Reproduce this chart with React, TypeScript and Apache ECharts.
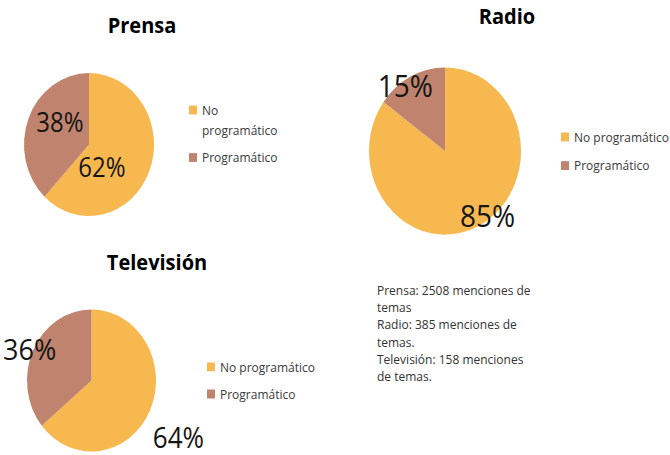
import React, { useEffect, useRef } from "react";
import * as echarts from "echarts";

const categories = ["No programático", "Programático"];
const prensaValues = [62, 38];
const radioValues = [85, 15];
const televisionValues = [64, 36];
const chartTitles = ["Prensa", "Radio", "Televisión"];
const noteLines = [
  "Prensa: 2508 menciones de",
  "temas",
  "Radio: 385 menciones de",
  "temas.",
  "Televisión: 158 menciones",
  "de temas.",
];

const COLORS = ["#F7B94F", "#BF836E"];
const STRETCH = 1.1;
const W = 670;
const H = 455 / STRETCH;
const FONT = "'Open Sans', 'DejaVu Sans', sans-serif";

function pieSeries(name: string, values: number[], center: number[], radius: number, fontSizes: number[], offsets: number[][]) {
  return {
    type: "pie",
    name,
    center,
    radius,
    startAngle: 90,
    clockwise: true,
    silent: true,
    emphasis: { disabled: true },
    labelLine: { show: false },
    itemStyle: { borderWidth: 0 },
    data: categories.map((c, i) => ({
      name: c,
      value: values[i],
      itemStyle: { color: COLORS[i] },
      label: {
        show: true,
        position: "inside",
        formatter: "{c}%",
        fontSize: fontSizes[i],
        lineHeight: fontSizes[i],
        fontFamily: FONT,
        color: "#151515",
        offset: offsets[i],
      },
    })),
  };
}

export default function App() {
  const ref = useRef<HTMLDivElement>(null);
  useEffect(() => {
    if (!ref.current) return;
    const chart = echarts.init(ref.current, undefined, { renderer: "svg", width: W, height: H });
    const legendText = { fontSize: 12, fontFamily: FONT, color: "#3a3a3a", lineHeight: 14 };
    const titleStyle = { fontSize: 20, fontWeight: "bold", fontFamily: FONT, color: "#000", lineHeight: 24 };
    chart.setOption({
      animation: false,
      backgroundColor: "#ffffff",
      title: [
        { text: chartTitles[0], left: 142, top: 10.7, textAlign: "center", padding: 0, textStyle: titleStyle },
        { text: chartTitles[1], left: 507, top: 2.5, textAlign: "center", padding: 0, textStyle: titleStyle },
        { text: chartTitles[2], left: 157, top: 226, textAlign: "center", padding: 0, textStyle: titleStyle },
      ],
      legend: [
        {
          data: [categories[0]],
          left: 189,
          top: 73,
          padding: 0,
          icon: "rect",
          itemWidth: 8,
          itemHeight: 8,
          selectedMode: false,
          formatter: (n: string) => " \n" + n.replace(" ", "\n"),
          textStyle: { ...legendText, lineHeight: 18 },
        },
        {
          data: [categories[1]],
          left: 189,
          top: 136.2,
          padding: 0,
          icon: "rect",
          itemWidth: 8,
          itemHeight: 8,
          selectedMode: false,
          textStyle: legendText,
        },
        {
          data: categories,
          orient: "vertical",
          left: 561,
          top: 117.5,
          padding: 0,
          itemGap: 12,
          icon: "rect",
          itemWidth: 8,
          itemHeight: 8,
          selectedMode: false,
          textStyle: legendText,
        },
        {
          data: categories,
          orient: "vertical",
          left: 207,
          top: 326.6,
          padding: 0,
          itemGap: 10.6,
          icon: "rect",
          itemWidth: 8,
          itemHeight: 8,
          selectedMode: false,
          textStyle: legendText,
        },
      ],
      graphic: [
        {
          type: "text",
          left: 377,
          top: 256.5,
          silent: true,
          style: {
            text: noteLines.join("\n"),
            fontSize: 12,
            lineHeight: 15.5,
            fontFamily: FONT,
            fill: "#333333",
          },
        },
      ],
      series: [
        pieSeries("Prensa", prensaValues, [89, 131.4], 65, [24, 24], [[-20, 7], [4, -8]]),
        pieSeries("Radio", radioValues, [445, 137.3], 76, [28, 28], [[24, 22], [-21, -23]]),
        pieSeries("Televisión", televisionValues, [91.5, 345.9], 64.5, [26, 27], [[55, 36], [-30, -14]]),
      ],
    });
    return () => chart.dispose();
  }, []);
  return (
    <div
      ref={ref}
      style={{
        position: "absolute",
        left: 0,
        top: 0,
        width: W,
        height: H,
        transform: `scaleY(${STRETCH})`,
        transformOrigin: "0 0",
        background: "#fff",
      }}
    />
  );
}
